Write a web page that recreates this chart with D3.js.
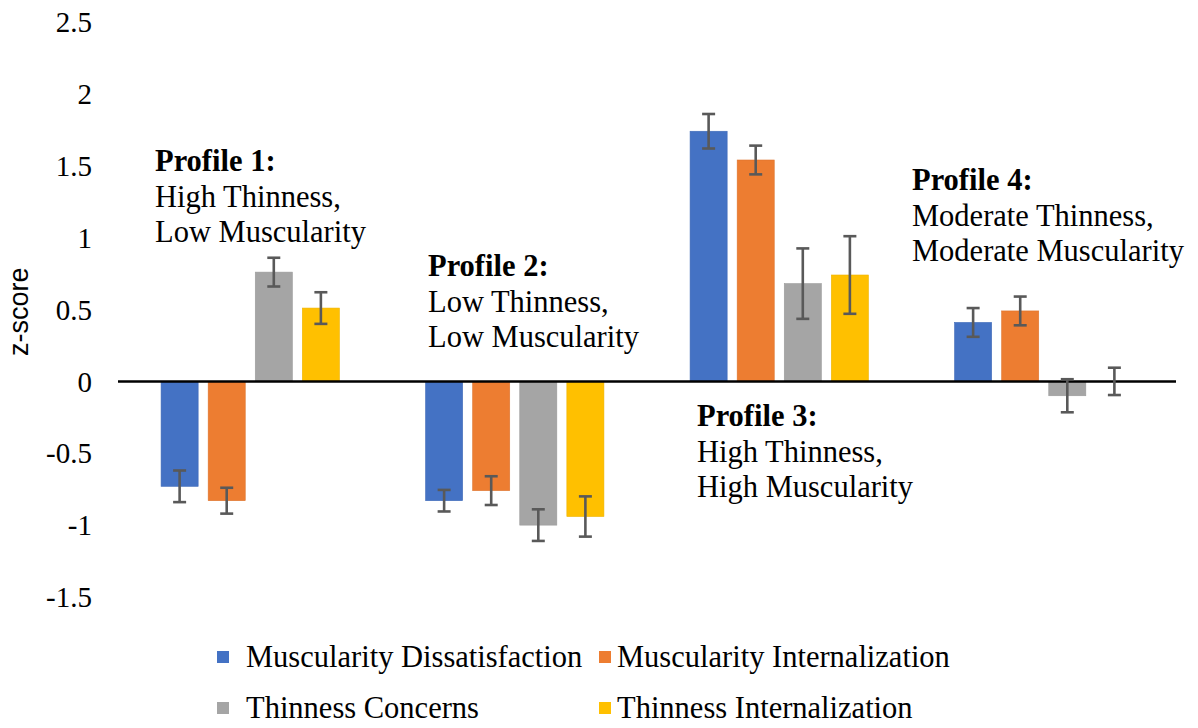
<!DOCTYPE html>
<html>
<head>
<meta charset="utf-8">
<script src="https://cdn.jsdelivr.net/npm/d3@7"></script>
<style>
  body { margin:0; background:#fff; }
  svg text { font-family: "Liberation Serif", "Times New Roman", serif; fill:#000; }
</style>
</head>
<body>
<div class="canvas"></div>
<script>
// data
const profiles = ['Profile 1', 'Profile 2', 'Profile 3', 'Profile 4'];
const seriesNames = ['Muscularity Dissatisfaction', 'Muscularity Internalization', 'Thinness Concerns', 'Thinness Internalization'];
const musDissat = [-0.73, -0.83, 1.74, 0.41];
const musIntern = [-0.83, -0.76, 1.54, 0.49];
const thinConc  = [0.76, -1.00, 0.68, -0.10];
const thinIntern = [0.51, -0.94, 0.74, 0.00];
const musDissatErr = [0.11, 0.075, 0.12, 0.10];
const musInternErr = [0.09, 0.10, 0.10, 0.10];
const thinConcErr  = [0.10, 0.11, 0.245, 0.115];
const thinInternErr = [0.11, 0.14, 0.27, 0.095];
const yTicks = [2.5, 2, 1.5, 1, 0.5, 0, -0.5, -1, -1.5];
const labels = [
  ['Profile 1:', 'High Thinness,', 'Low Muscularity'],
  ['Profile 2:', 'Low Thinness,', 'Low Muscularity'],
  ['Profile 3:', 'High Thinness,', 'High Muscularity'],
  ['Profile 4:', 'Moderate Thinness,', 'Moderate Muscularity']
];
const colors = ['#4472C4', '#ED7D31', '#A5A5A5', '#FFC000'];

const values = [musDissat, musIntern, thinConc, thinIntern];
const errs = [musDissatErr, musInternErr, thinConcErr, thinInternErr];

const W = 1198, H = 728;
const svg = d3.select('.canvas').append('svg').attr('width', W).attr('height', H);

const x = d3.scaleBand().domain(profiles).range([118, 1176]);
const xs = d3.scaleBand().domain(d3.range(4)).range([0, x.bandwidth()]).paddingInner(0.213).paddingOuter(0.915);
const y = d3.scaleLinear().domain([-1.5, 2.5]).range([597, 22]);

// y tick labels (no axis line in the original)
svg.append('g').selectAll('text').data(yTicks).enter().append('text')
  .attr('x', 92).attr('y', d => y(d)).attr('dy', '0.35em')
  .attr('text-anchor', 'end').style('font-size', '29px')
  .text(d => d);

svg.append('text')
  .attr('transform', `translate(28, ${y(0.485)}) rotate(-90)`)
  .attr('text-anchor', 'middle')
  .style('font-family', '"Liberation Sans", Arial, sans-serif')
  .style('font-size', '27px')
  .text('z-score');

// bars
const data = [];
profiles.forEach((p, i) => values.forEach((s, j) => data.push({ p, j, v: s[i], e: errs[j][i] })));

const bars = svg.append('g');
bars.selectAll('rect').data(data).enter().append('rect')
  .attr('x', d => x(d.p) + xs(d.j))
  .attr('width', xs.bandwidth())
  .attr('y', d => y(Math.max(0, d.v)))
  .attr('height', d => Math.abs(y(d.v) - y(0)))
  .attr('fill', d => colors[d.j])
  .attr('stroke', d => d3.color(colors[d.j]).darker(0.2))
  .attr('stroke-width', 0.6);

// zero line
svg.append('line')
  .attr('x1', x.range()[0]).attr('x2', x.range()[1])
  .attr('y1', y(0)).attr('y2', y(0))
  .attr('stroke', '#000').attr('stroke-width', 2.5);

// error bars
const eb = svg.append('g').attr('stroke', '#595959').attr('stroke-width', 2.6);
data.forEach(d => {
  const cx = x(d.p) + xs(d.j) + xs.bandwidth() / 2;
  eb.append('line').attr('x1', cx).attr('x2', cx).attr('y1', y(d.v + d.e)).attr('y2', y(d.v - d.e));
  [d.v + d.e, d.v - d.e].forEach(v => {
    eb.append('line').attr('x1', cx - 6.5).attr('x2', cx + 6.5).attr('y1', y(v)).attr('y2', y(v));
  });
});

// profile annotations (baseline of first line)
const annPos = [[155, 171], [428, 276], [697, 426], [912, 190]];
labels.forEach((lines, i) => {
  const t = svg.append('text').attr('x', annPos[i][0]).attr('y', annPos[i][1]).style('font-size', '30.5px');
  lines.forEach((l, k) => {
    t.append('tspan').attr('x', annPos[i][0]).attr('dy', k === 0 ? 0 : 35.5)
      .style('font-weight', k === 0 ? 'bold' : 'normal').text(l);
  });
});

// legend
const legPos = [[217, 657], [599, 657], [217, 708], [599, 708]];
seriesNames.forEach((n, i) => {
  const g = svg.append('g').attr('transform', `translate(${legPos[i][0]}, ${legPos[i][1]})`);
  g.append('rect').attr('x', 0).attr('y', -6).attr('width', 12).attr('height', 12).attr('fill', colors[i]);
  g.append('text').attr('x', i % 2 ? 18 : 29).attr('y', 10).style('font-size', '30.5px').text(n);
});
</script>
</body>
</html>
